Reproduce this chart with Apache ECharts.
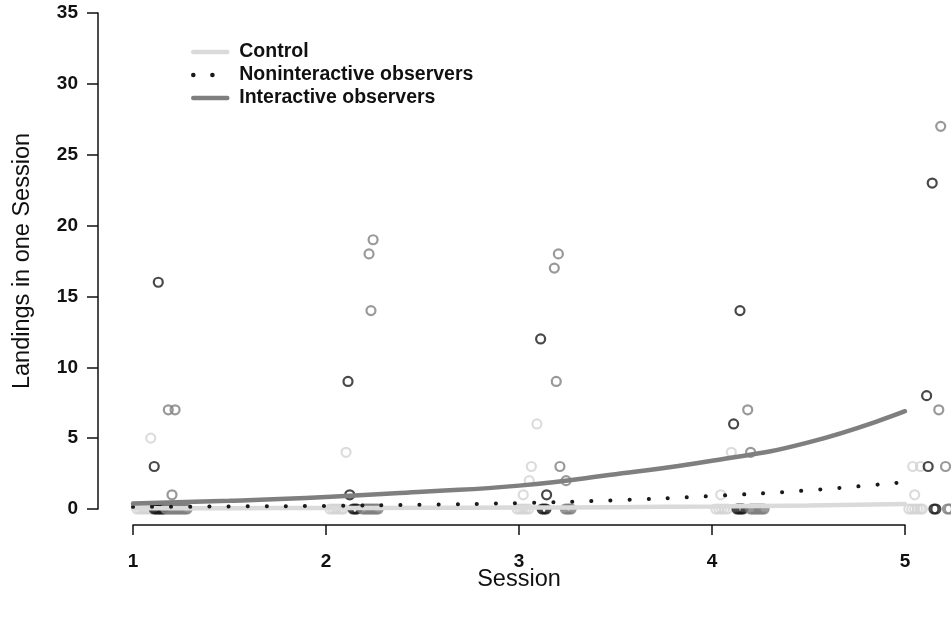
<!DOCTYPE html>
<html lang="en">
<head>
    <meta charset="UTF-8">
    <title>Landings per session</title>
    <style>
        html, body { margin: 0; padding: 0; background: #fff; }
    </style>
</head>
<body>
    <div id="main" style="width: 951px;height:617px;"></div>
</body>
<script src="https://cdn.jsdelivr.net/npm/echarts@6/dist/echarts.min.js"></script>
<script type="text/javascript">
    // tick labels
    var sessionTicks = [1, 2, 3, 4, 5];
    var landingTicks = [0, 5, 10, 15, 20, 25, 30, 35];

    // raw observations (jittered session, landings)
    var controlX = [1.092, 1.02, 1.035, 1.05, 1.065, 1.08, 1.095,
                    2.104, 2.02, 2.035, 2.05, 2.065, 2.08, 2.09,
                    3.093, 3.064, 3.053, 3.022, 2.99, 3.005, 3.02, 3.035, 3.05,
                    4.10, 4.045, 4.02, 4.035, 4.05, 4.065, 4.08,
                    5.04, 5.08, 5.05, 5.02, 5.035, 5.05, 5.065, 5.08, 5.09];
    var controlY = [5, 0, 0, 0, 0, 0, 0,
                    4, 0, 0, 0, 0, 0, 0,
                    6, 3, 2, 1, 0, 0, 0, 0, 0,
                    4, 1, 0, 0, 0, 0, 0,
                    3, 3, 1, 0, 0, 0, 0, 0, 0];

    var nonX = [1.131, 1.11, 1.11, 1.12, 1.13, 1.14, 1.15, 1.16,
                2.114, 2.123, 2.14, 2.15, 2.16,
                3.112, 3.143, 3.12, 3.13, 3.14,
                4.145, 4.112, 4.13, 4.14, 4.15, 4.16,
                5.141, 5.112, 5.12, 5.15, 5.16];
    var nonY = [16, 3, 0, 0, 0, 0, 0, 0,
                9, 1, 0, 0, 0,
                12, 1, 0, 0, 0,
                14, 6, 0, 0, 0, 0,
                23, 8, 3, 0, 0];

    var intX = [1.183, 1.218, 1.202, 1.17, 1.18, 1.19, 1.20, 1.21, 1.22, 1.23, 1.24, 1.25, 1.26, 1.27, 1.28,
                2.244, 2.223, 2.233, 2.19, 2.20, 2.21, 2.22, 2.23, 2.24, 2.25, 2.26, 2.27,
                3.204, 3.183, 3.193, 3.212, 3.244, 3.24, 3.25, 3.26, 3.27,
                4.185, 4.20, 4.20, 4.21, 4.22, 4.23, 4.24, 4.25, 4.26, 4.27,
                5.185, 5.175, 5.21, 5.22, 5.23];
    var intY = [7, 7, 1, 0, 0, 0, 0, 0, 0, 0, 0, 0, 0, 0, 0,
                19, 18, 14, 0, 0, 0, 0, 0, 0, 0, 0, 0,
                18, 17, 9, 3, 2, 0, 0, 0, 0,
                7, 4, 0, 0, 0, 0, 0, 0, 0, 0,
                27, 7, 3, 0, 0];

    // fitted curves
    var fitX = [1, 1.5, 2, 2.5, 3, 3.5, 4, 4.5, 5];
    var controlFit = [0.05, 0.06, 0.07, 0.08, 0.1, 0.13, 0.18, 0.25, 0.35];
    var nonFit = [0.15, 0.18, 0.22, 0.3, 0.42, 0.62, 0.92, 1.32, 1.9];
    var intFit = [0.38, 0.58, 0.85, 1.22, 1.65, 2.45, 3.4, 4.7, 6.9];

    function pairs(xs, ys) {
        var out = [];
        for (var i = 0; i < xs.length; i++) out.push([xs[i], ys[i]]);
        return out;
    }

    var cLight = '#d3d3d3', cBlack = '#1a1a1a', cGray = '#7f7f7f';
    var font = 'Liberation Sans';

    var myChart = echarts.init(document.getElementById('main'));

    function pointSeries(name, color, xs, ys) {
        return {
            name: name, type: 'scatter', clip: false,
            data: pairs(xs, ys),
            symbol: 'circle', symbolSize: 9,
            itemStyle: { color: 'rgba(0,0,0,0)', borderColor: color, borderWidth: 2.2 },
            z: 2
        };
    }

    function fitSeries(name, color, ys, width, dash) {
        return {
            name: name, type: 'line', smooth: true, symbol: 'none',
            data: pairs(fitX, ys),
            color: color,
            lineStyle: { color: color, width: width, type: dash || 'solid', cap: 'round' },
            z: 3
        };
    }

    var option = {
        animation: false,
        backgroundColor: '#fff',
        grid: { left: 133, right: 46, top: 13, bottom: 108 },
        legend: {
            data: ['Control', 'Noninteractive observers', 'Interactive observers'],
            orient: 'vertical', left: 186, top: 37,
            itemWidth: 34, itemHeight: 20, itemGap: 3,
            itemStyle: { opacity: 0 },
            lineStyle: { width: 4.5, cap: 'round' },
            textStyle: { fontFamily: font, fontWeight: 'bold', fontSize: 19.5, color: '#111', padding: [0, 0, 0, 7] }
        },
        xAxis: {
            type: 'value', min: 1, max: 5, interval: 1, offset: 16,
            name: 'Session', nameLocation: 'middle', nameGap: 43, nameMoveOverlap: false,
            nameTextStyle: { fontFamily: font, fontSize: 23.5, color: '#111' },
            axisLine: { onZero: false, lineStyle: { color: '#111', width: 1.5 } },
            axisTick: { length: 10, lineStyle: { color: '#111', width: 1.5 } },
            axisLabel: { margin: 27, fontFamily: font, fontWeight: 'bold', fontSize: 19, color: '#111',
                formatter: function (v) { return sessionTicks.indexOf(v) >= 0 ? String(v) : ''; } },
            splitLine: { show: false }
        },
        yAxis: {
            type: 'value', min: 0, max: 35, interval: 5, offset: 35,
            name: 'Landings in one Session', nameLocation: 'middle', nameGap: 63, nameMoveOverlap: false,
            nameTextStyle: { fontFamily: font, fontSize: 23.5, color: '#111' },
            axisLine: { show: true, onZero: false, lineStyle: { color: '#111', width: 1.5 } },
            axisTick: { show: true, length: 11, lineStyle: { color: '#111', width: 1.5 } },
            axisLabel: { margin: 20, fontFamily: font, fontWeight: 'bold', fontSize: 19, color: '#111',
                formatter: function (v) { return landingTicks.indexOf(v) >= 0 ? String(v) : ''; } },
            splitLine: { show: false }
        },
        series: [
            pointSeries('Control points', cLight, controlX, controlY),
            pointSeries('Noninteractive points', cBlack, nonX, nonY),
            pointSeries('Interactive points', cGray, intX, intY),
            fitSeries('Control', '#dadada', controlFit, 4.5),
            fitSeries('Noninteractive observers', cBlack, nonFit, 4, [0.1, 19]),
            fitSeries('Interactive observers', cGray, intFit, 4.5)
        ]
    };
    myChart.setOption(option);
</script>
</html>
